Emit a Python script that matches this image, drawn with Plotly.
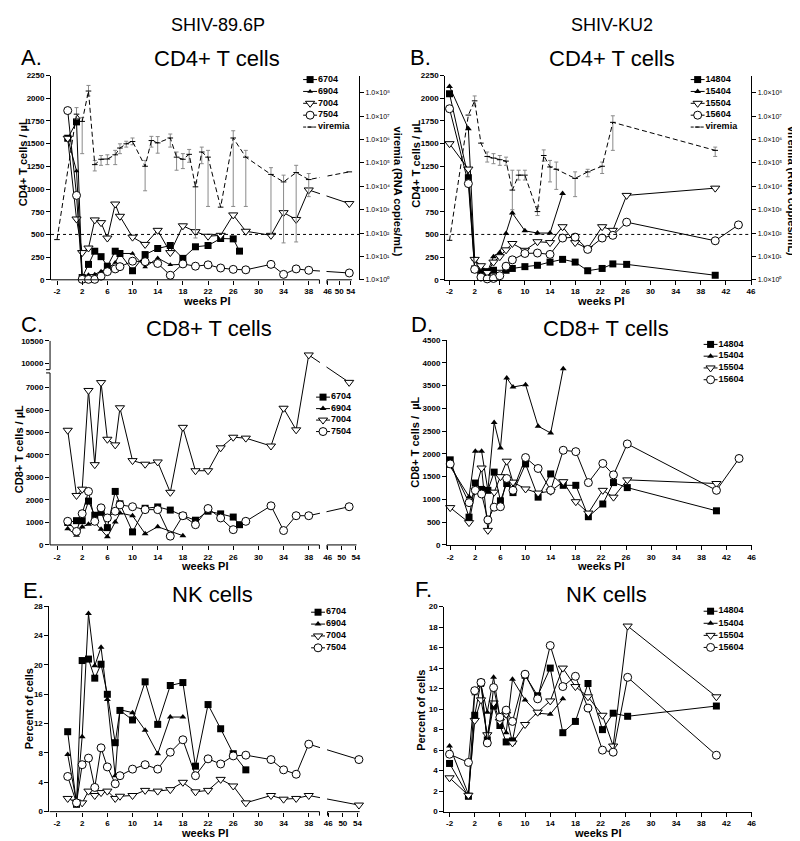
import numpy as np
import plotly.graph_objects as go

W, H = 800, 841
FONT = "Arial, Liberation Sans, Helvetica, sans-serif"

# ======================= DATA =======================
# ---- Panel A: SHIV-89.6P, CD4+ T cells / uL ----
A_wk_6704 = [-0.3, 1.1, 2, 3, 4, 5, 6, 7.25, 8, 10, 12, 14, 16, 18, 20, 22, 24, 26, 27]
A_6704 = [1560, 1740, 25, 170, 315, 255, 150, 315, 290, 100, 278, 345, 378, 236, 364, 378, 455, 451, 316]
A_wk_6904 = [-0.3, 1.1, 2, 3, 4, 5, 6, 7.25, 8, 10, 12, 14, 16, 18]
A_6904 = [1560, 1200, 40, 55, 60, 95, 120, 190, 290, 290, 140, 240, 165, 170]
A_wk_7004 = [-0.3, 1.1, 2, 3, 4, 5, 6, 7.25, 8, 10, 12, 14, 16, 18, 20, 22, 24, 26, 28, 32, 34, 36, 38, 53.5]
A_7004 = [1560, 670, 300, 350, 660, 630, 460, 835, 700, 470, 390, 545, 300, 595, 530, 480, 490, 715, 535, 490, 740, 665, 990, 840]
A_wk_7504 = [-0.3, 1.1, 2, 3, 4, 5, 6, 7.25, 8, 10, 12, 14, 16, 18, 20, 22, 24, 26, 28, 32, 34, 36, 38, 53.5]
A_7504 = [1865, 930, 5, 5, 5, 40, 90, 120, 145, 205, 200, 180, 50, 175, 150, 165, 130, 115, 110, 170, 60, 120, 105, 75]
# viremia, log10 RNA copies/mL: mean, top of whisker, bottom of whisker
A_vir_wk = [-2, 1.1, 2, 3, 4, 5, 6, 7.25, 8, 9, 10, 12, 13, 14, 16, 17, 18, 19, 20, 21, 22, 24, 26, 28, 32, 34, 36, 38, 53.5]
A_vir_log = [1.72, 7.09, 6.78, 8.08, 4.93, 5.16, 5.17, 5.35, 5.64, 5.82, 5.92, 4.86, 5.96, 5.86, 6.07, 5.25, 5.16, 5.37, 3.98, 5.47, 5.25, 3.11, 6.07, 5.25, 4.51, 4.19, 4.59, 4.29, 4.62]
A_vir_hi = [1.72, 7.37, 6.95, 8.32, 5.11, 5.32, 5.35, 5.54, 5.82, 5.93, 6.07, 5.11, 6.14, 6.13, 6.24, 5.47, 5.40, 5.58, 4.19, 5.68, 5.54, 3.11, 6.38, 5.54, 4.80, 4.48, 4.90, 4.55, 4.62]
A_vir_lo = [1.72, 6.88, 5.40, 7.87, 4.66, 4.90, 4.93, 4.93, 5.40, 5.68, 5.78, 3.81, 5.68, 5.42, 5.68, 4.69, 4.76, 5.03, 1.79, 4.97, 3.14, 3.11, 3.14, 3.14, 1.94, 1.58, 1.62, 3.56, 4.62]

# ---- Panel B: SHIV-KU2, CD4+ T cells / uL ----
B_wk_14804 = [-2, 1, 2, 3, 4, 5, 7, 8, 10, 12, 14, 16, 18, 20, 22.3, 24, 26.2, 40.3]
B_14804 = [2050, 1125, 120, 95, 90, 105, 105, 125, 145, 160, 195, 225, 195, 100, 125, 175, 170, 50]
B_wk_15404 = [-2, 1, 2, 3, 4, 5, 6, 7, 8, 10, 12, 14, 16]
B_15404 = [2130, 1665, 230, 100, 80, 255, 300, 510, 735, 540, 515, 515, 950]
B_wk_15504 = [-2, 1, 2, 3, 4, 5, 6, 7, 8, 10, 12, 14, 16, 18, 20, 22.3, 24, 26.2, 40.3]
B_15504 = [1500, 1220, 225, 155, 80, 195, 255, 330, 400, 325, 420, 410, 585, 410, 345, 585, 545, 930, 1010]
B_wk_15604 = [-2, 1, 2, 3, 4, 5, 6, 7, 8, 10, 12, 14, 16, 18, 20, 22.3, 24, 26.2, 40.3, 44]
B_15604 = [1885, 1060, 115, 30, 10, 15, 45, 150, 220, 290, 295, 280, 460, 470, 335, 460, 490, 635, 430, 605]
B_vir_wk = [-2, 1, 2, 3, 4, 5, 6, 7, 8, 9, 10, 12, 13, 14, 15, 18, 20, 22.3, 24, 40.3]
B_vir_log = [1.69, 7.05, 7.66, 5.85, 5.28, 5.21, 5.14, 5.08, 3.84, 4.48, 4.48, 2.92, 5.32, 4.83, 4.73, 4.34, 4.62, 4.86, 6.74, 5.54]
B_vir_hi = [1.69, 7.05, 7.87, 5.85, 5.47, 5.40, 5.32, 5.25, 4.69, 4.69, 4.69, 3.14, 5.56, 5.11, 5.04, 4.62, 4.73, 5.04, 7.02, 5.68]
B_vir_lo = [1.69, 7.05, 7.44, 5.85, 5.04, 4.97, 4.90, 4.90, 3.00, 4.27, 4.27, 2.75, 5.08, 4.19, 3.87, 3.56, 4.41, 4.55, 5.54, 5.28]

# ---- Panel C: SHIV-89.6P, CD8+ T cells / uL ----
C_wk_6704 = [-0.3, 1.1, 2, 3, 4, 5, 6, 7.25, 8, 10, 12, 14, 16, 18, 20, 22, 24, 26, 27]
C_6704 = [1000, 1080, 1080, 1950, 1320, 1450, 770, 2380, 1830, 580, 1630, 1690, 1550, 1300, 1100, 1500, 1380, 1240, 900]
C_wk_6904 = [-0.3, 1.1, 2, 3, 4, 5, 6, 7.25, 8, 10, 12, 14, 18]
C_6904 = [720, 430, 800, 920, 1000, 700, 360, 1020, 1420, 1300, 500, 810, 410]
C_wk_7004 = [-0.3, 1.1, 2, 3, 4, 5, 6, 7.25, 8, 10, 12, 14, 16, 18, 20, 22, 24, 26, 28, 32, 34, 36, 38, 52.1]
C_7004 = [5100, 2200, 2480, 6870, 3570, 7220, 4700, 4450, 6100, 3750, 3590, 3690, 2340, 5230, 3300, 3300, 4320, 4790, 4750, 4400, 6080, 5120, 10190, 7230]
C_wk_7504 = [-0.3, 1.1, 2, 3, 4, 5, 6, 7.25, 8, 10, 12, 14, 16, 18, 20, 22, 24, 26, 28, 32, 34, 36, 38, 52.1]
C_7504 = [1050, 600, 1390, 2380, 1050, 1650, 1200, 1500, 1780, 1700, 1570, 1570, 390, 1300, 900, 1620, 1200, 680, 1050, 1740, 640, 1300, 1300, 1700]

# ---- Panel D: SHIV-KU2, CD8+ T cells / uL ----
D_wk_14804 = [-2, 1, 2, 3, 4, 5, 6, 7, 8, 10, 12, 14, 16, 18, 20, 22.3, 24, 26.2, 40.4]
D_14804 = [1870, 610, 1360, 1220, 1200, 1600, 970, 1350, 1150, 1780, 1050, 1560, 1310, 1310, 620, 900, 1370, 1260, 750]
D_wk_15404 = [-2, 1, 2, 3, 4, 5, 6, 7, 8, 10, 12, 14, 16]
D_15404 = [1725, 1060, 2060, 2060, 1200, 2690, 2130, 3670, 3470, 3520, 2610, 2460, 3870]
D_wk_15504 = [-2, 1, 2, 3, 4, 5, 6, 7, 8, 10, 12, 14, 16, 18, 20, 22.3, 24, 26.2, 40.4]
D_15504 = [820, 490, 1200, 1690, 320, 1160, 1500, 1840, 1380, 1230, 1140, 1180, 1390, 950, 700, 1200, 1050, 1430, 1350]
D_wk_15604 = [-2, 1, 2, 3, 4, 5, 6, 7, 8, 10, 12, 14, 16, 18, 20, 22.3, 24, 26.2, 40.4, 44]
D_15604 = [1780, 930, 1200, 1120, 550, 830, 840, 1460, 1200, 1920, 1680, 1200, 2080, 2050, 1370, 1790, 1540, 2220, 1200, 1900]

# ---- Panel E: SHIV-89.6P, NK cells (% of cells) ----
E_wk_6704 = [-0.3, 1.1, 2, 3, 4, 5, 6, 7.25, 8, 10, 12, 14, 16, 18, 20, 22, 24, 26, 28]
E_6704 = [10.9, 1.0, 20.6, 20.8, 18.2, 20.1, 16.0, 9.4, 13.8, 12.5, 17.7, 11.9, 17.2, 17.6, 6.2, 14.6, 11.3, 7.9, 5.7]
E_wk_6904 = [-0.3, 1.1, 2, 3, 4, 5, 6, 7.25, 8, 10, 12, 14, 16, 18]
E_6904 = [7.8, 1.3, 10.2, 27.0, 19.9, 22.4, 15.3, 4.9, 13.9, 13.5, 11.1, 7.9, 12.9, 12.9]
E_wk_7004 = [-0.3, 1.1, 2, 3, 4, 5, 6, 7.25, 8, 10, 12, 14, 16, 18, 20, 22, 24, 26, 28, 32, 34, 36, 38, 54.4]
E_7004 = [1.8, 1.3, 1.2, 2.8, 2.2, 2.6, 2.8, 1.8, 2.1, 2.2, 2.9, 2.8, 3.0, 4.0, 2.7, 2.9, 4.4, 3.5, 1.2, 2.2, 1.7, 1.8, 2.2, 0.9]
E_wk_7504 = [-0.3, 1.1, 2, 3, 4, 5, 6, 7.25, 8, 10, 12, 14, 16, 18, 20, 22, 24, 26, 28, 32, 34, 36, 38, 54.4]
E_7504 = [4.8, 1.2, 6.4, 7.3, 3.3, 8.7, 6.1, 3.8, 4.9, 5.8, 6.4, 5.8, 8.1, 9.8, 4.9, 7.2, 6.5, 7.6, 7.7, 7.1, 5.7, 5.1, 9.2, 7.1]

# ---- Panel F: SHIV-KU2, NK cells (% of cells) ----
F_wk_14804 = [-2, 1, 2, 3, 4, 5, 6, 7, 8, 10, 12, 14, 16, 18, 20, 22.3, 24, 26.3, 40.4]
F_14804 = [4.7, 1.5, 9.4, 12.6, 7.0, 10.3, 8.4, 6.8, 6.9, 13.3, 11.3, 14.0, 7.7, 8.8, 12.5, 8.0, 9.6, 9.3, 10.3]
F_wk_15404 = [-2, 1, 2, 3, 4, 5, 6, 7, 8, 10, 12, 14, 16]
F_15404 = [6.4, 1.7, 11.5, 12.3, 9.7, 13.1, 9.2, 7.7, 12.9, 10.9, 9.6, 9.5, 11.0]
F_wk_15504 = [-2, 1, 2, 3, 4, 5, 6, 7, 8, 10, 12, 14, 16, 18, 20, 22.3, 24, 26.3, 40.4]
F_15504 = [3.3, 1.6, 8.9, 10.9, 7.5, 10.6, 8.8, 9.5, 6.7, 8.5, 9.7, 10.8, 14.0, 12.2, 11.2, 9.4, 6.4, 18.1, 11.2]
F_wk_15604 = [-2, 1, 2, 3, 4, 5, 6, 7, 8, 10, 12, 14, 16, 18, 20, 22.3, 24, 26.3, 40.4]
F_15604 = [5.6, 4.8, 11.8, 12.6, 6.7, 12.1, 9.2, 9.9, 8.8, 13.4, 11.0, 16.2, 12.2, 13.2, 10.1, 6.0, 5.8, 13.1, 5.5]

# tick labels
X_TICKS_1 = [-2, 2, 6, 10, 14, 18, 22, 26, 30, 34, 38]
X_TICKS_2 = [46, 50, 54]
X_TICKS_FULL = [-2, 2, 6, 10, 14, 18, 22, 26, 30, 34, 38, 42, 46]
CD4_TICKS = list(range(0, 2251, 250))
VIR_EXP = list(range(0, 9))
C_TICKS = [0, 1000, 2000, 3000, 4000, 5000, 6000, 7000, 10000, 10500]
D_TICKS = list(range(0, 4501, 500))
E_TICKS = list(range(0, 29, 4))
F_TICKS = list(range(0, 21, 2))

# ======================= HELPERS =======================
# broken x-axis geometry (virtual units = weeks of the first segment)
BRK_A = dict(end1=39.7, w2=45.8, v2=40.9, s2=0.46, end2=54.4)
BRK_C = dict(end1=39.7, w2=45.8, v2=40.9, s2=0.559, end2=54.2)
BRK_E = dict(end1=39.7, w2=45.8, v2=40.98, s2=0.58, end2=54.6)
# broken y-axis geometry for panel C
YBRK_C = dict(top1=7650, bot2=9870, v2=7796, s2=2.04)
SUP = str.maketrans('0123456789', '⁰¹²³⁴⁵⁶⁷⁸⁹')


def xbrk(w, p):
    w = np.asarray(w, dtype=float)
    if p is None:
        return w
    return np.where(w <= p['end1'], w, p['v2'] + (w - p['w2']) * p['s2'])


def ybrk(v, p=YBRK_C):
    v = np.asarray(v, dtype=float)
    return np.where(v <= p['top1'], v, p['v2'] + (v - p['bot2']) * p['s2'])


def dx(l, r):
    return [l / W, r / W]


def dy(t, b):
    return [1 - b / H, 1 - t / H]


MK = {
    'sq': dict(symbol='square', size=7, color='black', line=dict(width=0)),
    'tri': dict(symbol='triangle-up', size=6, color='black', line=dict(width=0)),
    'tris': dict(symbol='triangle-up', size=5, color='black', line=dict(width=0)),
    'tdn': dict(symbol='triangle-down', size=8, color='white', line=dict(color='black', width=1)),
    'cir': dict(symbol='circle', size=8, color='white', line=dict(color='black', width=1)),
}

fig = go.Figure()


def add_series(xa, ya, wk, vals, sty, brk=None, yt=None):
    x = xbrk(wk, brk)
    y = np.asarray(vals, dtype=float) if yt is None else yt(vals)
    fig.add_trace(go.Scatter(x=x, y=y, xaxis=xa, yaxis=ya, mode='lines+markers',
                             line=dict(color='black', width=1), marker=MK[sty],
                             cliponaxis=False, showlegend=False, hoverinfo='skip'))


def add_viremia(xa, ya, wk, lg, hi, lo, brk=None):
    lg = np.asarray(lg, float); hi = np.asarray(hi, float); lo = np.asarray(lo, float)
    y = 10 ** lg
    up = 10 ** hi - y
    dn = y - 10 ** lo
    up = np.where(up <= 0, np.nan, up)
    dn = np.where(dn <= 0, np.nan, dn)
    fig.add_trace(go.Scatter(x=xbrk(wk, brk), y=y, xaxis=xa, yaxis=ya, mode='lines+markers',
                             line=dict(color='black', width=1, dash='5px,3px'),
                             marker=dict(symbol='line-ew', size=4, line=dict(color='black', width=1)),
                             error_y=dict(type='data', symmetric=False, array=up, arrayminus=dn,
                                          color='#8a8a8a', thickness=1, width=2),
                             cliponaxis=False, showlegend=False, hoverinfo='skip'))


TICKFONT = dict(family=FONT, size=8, color='black', weight='bold')


def xcfg(dom, rng, tv, tt, anchor, showline=True):
    return dict(domain=dom, range=rng, tickvals=list(tv), ticktext=tt, ticks='outside', ticklen=4,
                tickwidth=1, tickcolor='black', showline=showline, linecolor='black', linewidth=1,
                showgrid=False, zeroline=False, tickfont=TICKFONT, anchor=anchor, fixedrange=True)


def ycfg(dom, rng, tv, tt, anchor, showline=True):
    return dict(domain=dom, range=rng, tickvals=list(tv), ticktext=tt, ticks='outside', ticklen=4,
                tickwidth=1, tickcolor='black', showline=showline, linecolor='black', linewidth=1,
                showgrid=False, zeroline=False, tickfont=TICKFONT, anchor=anchor, fixedrange=True)


def vir_axis(over, anchor, dom):
    return dict(overlaying=over, side='right', anchor=anchor, type='log', range=[0, 8.74], domain=dom,
                tickvals=[10 ** k for k in VIR_EXP],
                ticktext=['1.0×10' + str(k).translate(SUP) for k in VIR_EXP],
                ticks='outside', ticklen=4, tickwidth=1, tickcolor='black', showline=True,
                linecolor='black', linewidth=1, showgrid=False, zeroline=False,
                tickfont=dict(family=FONT, size=7, color='black'), fixedrange=True)


def brk_ticks(p):
    tv = list(xbrk(X_TICKS_1, None)) + list(xbrk(X_TICKS_2, p))
    tt = [str(t) for t in X_TICKS_1 + X_TICKS_2]
    return tv, tt


shapes = []


def broken_x_shapes(xa, ya, rng, p, plot_h, band_spans):
    yd = ya + ' domain'
    v_end2 = float(xbrk([p['end2']], p)[0])
    # white gap over the data lines where the axis is broken (kept clear of the legend)
    for b0, b1 in band_spans:
        shapes.append(dict(type='rect', xref=xa, yref=yd, x0=p['end1'] + 0.08, x1=p['v2'] - 0.08,
                           y0=b0, y1=b1, fillcolor='white', line=dict(width=0), layer='above'))
    for a, b in [(rng[0], p['end1']), (p['v2'], v_end2)]:
        shapes.append(dict(type='line', xref=xa, yref=yd, x0=a, x1=b, y0=0, y1=0,
                           line=dict(color='black', width=1), layer='above'))
    for xv in (p['end1'], p['v2']):
        shapes.append(dict(type='line', xref=xa, yref=yd, x0=xv, x1=xv, y0=0, y1=-4.0 / plot_h,
                           line=dict(color='black', width=1), layer='above'))


# ======================= PANEL GEOMETRY (pixels) =======================
A_X = dx(43.3, 353.3); A_Y = dy(64.3, 270.7); A_XR = [-2.95, 46.0]
B_X = dx(440, 748); B_Y = dy(64.3, 270.7); B_XR = [-2.68, 46.05]
C_X = dx(42.3, 355.0); C_Y = dy(332.3, 538.7); C_XR = [-3.11, 46.27]
D_X = dx(441.7, 748.3); D_Y = dy(331.7, 538.7); D_XR = [-2.52, 46.0]
E_X = dx(41.7, 355.3); E_Y = dy(600.7, 808.3); E_XR = [-3.2, 46.31]
F_X = dx(439, 748.3); F_Y = dy(601, 808.3); F_XR = [-2.84, 46.0]

# ======================= TRACES =======================
add_series('x', 'y', A_wk_6704, A_6704, 'sq', BRK_A)
add_series('x', 'y', A_wk_6904, A_6904, 'tris', BRK_A)
add_series('x', 'y', A_wk_7004, A_7004, 'tdn', BRK_A)
add_series('x', 'y', A_wk_7504, A_7504, 'cir', BRK_A)
add_viremia('x', 'y2', A_vir_wk, A_vir_log, A_vir_hi, A_vir_lo, BRK_A)

add_series('x2', 'y3', B_wk_14804, B_14804, 'sq')
add_series('x2', 'y3', B_wk_15404, B_15404, 'tri')
add_series('x2', 'y3', B_wk_15504, B_15504, 'tdn')
add_series('x2', 'y3', B_wk_15604, B_15604, 'cir')
add_viremia('x2', 'y4', B_vir_wk, B_vir_log, B_vir_hi, B_vir_lo)

add_series('x3', 'y5', C_wk_6704, C_6704, 'sq', BRK_C, ybrk)
add_series('x3', 'y5', C_wk_6904, C_6904, 'tri', BRK_C, ybrk)
add_series('x3', 'y5', C_wk_7004, C_7004, 'tdn', BRK_C, ybrk)
add_series('x3', 'y5', C_wk_7504, C_7504, 'cir', BRK_C, ybrk)

add_series('x4', 'y6', D_wk_14804, D_14804, 'sq')
add_series('x4', 'y6', D_wk_15404, D_15404, 'tri')
add_series('x4', 'y6', D_wk_15504, D_15504, 'tdn')
add_series('x4', 'y6', D_wk_15604, D_15604, 'cir')

add_series('x5', 'y7', E_wk_6704, E_6704, 'sq', BRK_E)
add_series('x5', 'y7', E_wk_6904, E_6904, 'tri', BRK_E)
add_series('x5', 'y7', E_wk_7004, E_7004, 'tdn', BRK_E)
add_series('x5', 'y7', E_wk_7504, E_7504, 'cir', BRK_E)

add_series('x6', 'y8', F_wk_14804, F_14804, 'sq')
add_series('x6', 'y8', F_wk_15404, F_15404, 'tri')
add_series('x6', 'y8', F_wk_15504, F_15504, 'tdn')
add_series('x6', 'y8', F_wk_15604, F_15604, 'cir')

# ======================= LEGENDS (drawn on a pixel overlay axis) =======================
LEG_LEN = 14
LEGENDS = [
    (297, 68.3, 12.0, [('6704', 'sq'), ('6904', 'tris'), ('7004', 'tdn'), ('7504', 'cir'), ('viremia', 'vir')]),
    (687, 68.3, 12.0, [('14804', 'sq'), ('15404', 'tri'), ('15504', 'tdn'), ('15604', 'cir'), ('viremia', 'vir')]),
    (310, 389.3, 11.6, [('6704', 'sq'), ('6904', 'tri'), ('7004', 'tdn'), ('7504', 'cir')]),
    (700, 336.0, 11.9, [('14804', 'sq'), ('15404', 'tri'), ('15504', 'tdn'), ('15604', 'cir')]),
    (305, 606.7, 12.0, [('6704', 'sq'), ('6904', 'tri'), ('7004', 'tdn'), ('7504', 'cir')]),
    (700, 605.7, 12.2, [('14804', 'sq'), ('15404', 'tri'), ('15504', 'tdn'), ('15604', 'cir')]),
]
for lx, ly0, step, items in LEGENDS:
    for i, (lab, sty) in enumerate(items):
        yy = ly0 + i * step
        if sty == 'vir':
            ln = dict(color='black', width=1, dash='3px,2px')
            mk = dict(symbol='line-ew', size=4, line=dict(color='black', width=1))
        else:
            ln = dict(color='black', width=1)
            mk = MK[sty]
        fig.add_trace(go.Scatter(x=[lx, lx + LEG_LEN], y=[yy, yy], xaxis='x7', yaxis='y9', mode='lines',
                                 line=ln, showlegend=False, hoverinfo='skip'))
        fig.add_trace(go.Scatter(x=[lx + LEG_LEN / 2], y=[yy], xaxis='x7', yaxis='y9', mode='markers',
                                 marker=mk, cliponaxis=False, showlegend=False, hoverinfo='skip'))
        fig.add_trace(go.Scatter(x=[lx + LEG_LEN + 1], y=[yy], xaxis='x7', yaxis='y9', mode='text',
                                 text=[lab], textposition='middle right',
                                 textfont=dict(family=FONT, size=9, color='black', weight='bold'),
                                 cliponaxis=False, showlegend=False, hoverinfo='skip'))

# ======================= SHAPES =======================
broken_x_shapes('x', 'y', A_XR, BRK_A, 206.4, [(0, (270.7 - 128) / 206.4)])
broken_x_shapes('x3', 'y5', C_XR, BRK_C, 206.4,
                [(0, (538.7 - 434) / 206.4), ((538.7 - 380) / 206.4, 1)])
broken_x_shapes('x5', 'y7', E_XR, BRK_E, 207.6, [(0, (808.3 - 655) / 207.6)])
# 500 cells / uL reference line in A and B
for xa, ya in (('x', 'y'), ('x2', 'y3')):
    shapes.append(dict(type='line', xref=xa + ' domain', yref=ya, x0=0, x1=1, y0=500, y1=500,
                       line=dict(color='black', width=1, dash='dot'), layer='above'))
# broken y axis in C
c_top = float(ybrk([10500])[0])
for a, b in [(0, YBRK_C['top1']), (YBRK_C['v2'], c_top)]:
    shapes.append(dict(type='line', xref='x3 domain', yref='y5', x0=0, x1=0, y0=a, y1=b,
                       line=dict(color='black', width=1), layer='above'))
for yv in (YBRK_C['top1'], YBRK_C['v2']):
    shapes.append(dict(type='line', xref='x3 domain', yref='y5', x0=0, x1=-4.0 / 312.7, y0=yv, y1=yv,
                       line=dict(color='black', width=1), layer='above'))

# ======================= AXES =======================
tvA, ttA = brk_ticks(BRK_A)
tvC, ttC = brk_ticks(BRK_C)
tvE, ttE = brk_ticks(BRK_E)
full_tt = [str(t) for t in X_TICKS_FULL]

layout_axes = dict(
    xaxis=xcfg(A_X, A_XR, tvA, ttA, 'y', showline=False),
    yaxis=ycfg(A_Y, [0, 2250], CD4_TICKS, [str(t) for t in CD4_TICKS], 'x'),
    yaxis2=vir_axis('y', 'x', A_Y),
    xaxis2=xcfg(B_X, B_XR, X_TICKS_FULL, full_tt, 'y3'),
    yaxis3=ycfg(B_Y, [0, 2250], CD4_TICKS, [str(t) for t in CD4_TICKS], 'x2'),
    yaxis4=vir_axis('y3', 'x2', B_Y),
    xaxis3=xcfg(C_X, C_XR, tvC, ttC, 'y5', showline=False),
    yaxis5=ycfg(C_Y, [0, c_top], ybrk(C_TICKS), [str(t) for t in C_TICKS], 'x3', showline=False),
    xaxis4=xcfg(D_X, D_XR, X_TICKS_FULL, full_tt, 'y6'),
    yaxis6=ycfg(D_Y, [0, 4500], D_TICKS, [str(t) for t in D_TICKS], 'x4'),
    xaxis5=xcfg(E_X, E_XR, tvE, ttE, 'y7', showline=False),
    yaxis7=ycfg(E_Y, [0, 28], E_TICKS, [str(t) for t in E_TICKS], 'x5'),
    xaxis6=xcfg(F_X, F_XR, X_TICKS_FULL, full_tt, 'y8'),
    yaxis8=ycfg(F_Y, [0, 20], F_TICKS, [str(t) for t in F_TICKS], 'x6'),
    xaxis7=dict(domain=[0, 1], range=[0, W], visible=False, anchor='y9', fixedrange=True),
    yaxis9=dict(domain=[0, 1], range=[H, 0], visible=False, anchor='x7', fixedrange=True),
)

# ======================= TEXT =======================
ann = []


def text(s, x, y, size, bold=False, angle=0, xanchor='center'):
    ann.append(dict(text=s, x=x / W, y=1 - y / H, xref='paper', yref='paper', showarrow=False,
                    xanchor=xanchor, yanchor='middle', textangle=angle, borderpad=0,
                    font=dict(family=FONT, size=size, color='black', weight='bold' if bold else 'normal')))


text('SHIV-89.6P', 211, 13, 18)
text('SHIV-KU2', 608, 13, 18)
text('A.', 12, 46, 22, xanchor='left')
text('CD4+ T cells', 210, 47, 22)
text('B.', 404, 46, 22, xanchor='left')
text('CD4+ T cells', 608, 47, 22)
text('C.', 12, 316, 22, xanchor='left')
text('CD8+ T cells', 202, 320, 22)
text('D.', 405, 316, 22, xanchor='left')
text('CD8+ T cells', 602, 320, 22)
text('E.', 14, 585, 22, xanchor='left')
text('NK cells', 206, 589, 22)
text('F.', 409, 584, 22, xanchor='left')
text('NK cells', 602, 589, 22)
# axis titles
text('CD4+ T cells / µL', 15, 152, 11, True, -90)
text('CD4+ T cells / µL', 411, 153, 11, True, -90)
text('viremia (RNA copies/mL)', 392, 181, 11, True, 90)
text('viremia (RNA copies/mL)', 789, 181, 11, True, 90)
text('CD8+ T cells / µL', 11, 442, 11, True, -90)
text('CD8+ T cells /  µL', 410, 435, 11, True, -90)
text('Percent of cells', 22, 704, 11, True, -90)
text('Percent of cells', 416, 706, 11, True, -90)
for xx, yy in [(200, 292), (596, 292), (198, 560), (596, 560), (198, 830), (593, 830)]:
    text('weeks PI', xx, yy, 11, True)

fig.update_layout(width=W, height=H, margin=dict(l=0, r=0, t=0, b=0), paper_bgcolor='white',
                  plot_bgcolor='rgba(0,0,0,0)', showlegend=False, annotations=ann, shapes=shapes,
                  font=dict(family=FONT, color='black'), **layout_axes)

fig.write_html('out.html')
